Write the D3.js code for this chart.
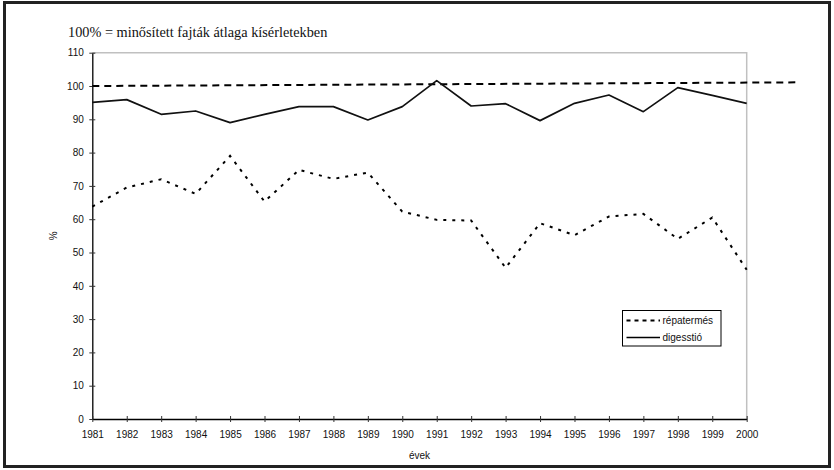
<!DOCTYPE html>
<html>
<head>
<meta charset="utf-8">
<script src="https://cdn.jsdelivr.net/npm/d3@7"></script>
<style>
  html, body { margin: 0; padding: 0; background: #fff; }
  svg { display: block; }
</style>
</head>
<body>
<svg id="chart" width="834" height="470"></svg>
<script>
// Years on the x axis
const years = [1981, 1982, 1983, 1984, 1985, 1986, 1987, 1988, 1989, 1990,
               1991, 1992, 1993, 1994, 1995, 1996, 1997, 1998, 1999, 2000];
// Relative yield (%), compared with the mean of registered varieties
const repatermes = [63.8, 69.5, 72.0, 67.6, 79.0, 65.3, 74.8, 72.1, 74.0, 62.3,
                    59.8, 59.6, 45.4, 58.8, 55.2, 60.8, 61.6, 54.1, 60.5, 44.8];
// Relative sugar content (digestion), %
const digesstio = [95.1, 95.9, 91.5, 92.5, 89.0, 91.5, 93.8, 93.8, 89.8, 93.8,
                   101.6, 94.0, 94.7, 89.6, 94.8, 97.3, 92.3, 99.5, 97.2, 94.8];
// 100% baseline (slightly rising as drawn)
const baseYears = [1981, 2001.45];
const baseValues = [100, 101.1];
// Axis ticks
const yTicks = [0, 10, 20, 30, 40, 50, 60, 70, 80, 90, 100, 110];
const seriesNames = ["répatermés", "digesstió"];
const titleText = "100% = minősített fajták átlaga kísérletekben";

const svg = d3.select("#chart");
const sans = "'Liberation Sans', Arial, sans-serif";
const serif = "'Liberation Serif', 'Times New Roman', serif";

const x = d3.scaleLinear().domain([1981, 2000]).range([92.3, 746.7]);
const y = d3.scaleLinear().domain([0, 110]).range([419, 52.7]);

// Outer frame
svg.append("rect")
  .attr("x", 4.5).attr("y", 2.5).attr("width", 825).attr("height", 464)
  .attr("fill", "none").attr("stroke", "#222").attr("stroke-width", 3);

// Title
svg.append("text")
  .attr("x", 68).attr("y", 37)
  .attr("font-family", serif).attr("font-size", 14.3)
  .attr("fill", "#111")
  .text(titleText);

// Plot area border (top and right, grey)
svg.append("path")
  .attr("d", `M${x(1981)},${y(110)}H${x(2000)}V${y(0)}`)
  .attr("fill", "none").attr("stroke", "#c0c0c0").attr("stroke-width", 1.5);

// Y axis
const yAxis = d3.axisLeft(y).tickValues(yTicks).tickSizeInner(3).tickSizeOuter(0).tickPadding(5);
const gy = svg.append("g").attr("transform", `translate(${x(1981)},0)`).call(yAxis);
gy.select(".domain").attr("stroke", "#000").attr("stroke-width", 1.3);
gy.selectAll(".tick line").attr("x2", 3).attr("x1", -3).attr("stroke", "#333");
gy.selectAll(".tick text").attr("font-family", sans).attr("font-size", 10).attr("fill", "#111").attr("x", -8.5);

// X axis
const xAxis = d3.axisBottom(x).tickValues(years).tickFormat(d3.format("d"))
  .tickSizeInner(3).tickSizeOuter(0).tickPadding(9);
const gx = svg.append("g").attr("transform", `translate(0,${y(0)})`).call(xAxis);
gx.select(".domain").attr("stroke", "#000").attr("stroke-width", 1.3);
gx.selectAll(".tick line").attr("y1", -3).attr("y2", 3).attr("stroke", "#333");
gx.selectAll(".tick text").attr("font-family", sans).attr("font-size", 10).attr("fill", "#111");

// Axis titles
svg.append("text")
  .attr("x", (x(1981) + x(2000)) / 2).attr("y", 459)
  .attr("text-anchor", "middle")
  .attr("font-family", sans).attr("font-size", 10).attr("fill", "#111")
  .text("évek");
svg.append("text")
  .attr("transform", `translate(57,${(y(0) + y(110)) / 2}) rotate(-90)`)
  .attr("text-anchor", "middle")
  .attr("font-family", sans).attr("font-size", 10).attr("fill", "#111")
  .text("%");

// 100% baseline
const baseLine = d3.line().x(d => x(d[0])).y(d => y(d[1]));
svg.append("path")
  .datum(baseYears.map((yr, i) => [yr, baseValues[i]]))
  .attr("d", baseLine)
  .attr("fill", "none").attr("stroke", "#000")
  .attr("stroke-width", 2).attr("stroke-dasharray", "7,5");

// Digestion series (solid)
const seriesLine = d3.line().x((d, i) => x(years[i])).y(d => y(d));
svg.append("path")
  .datum(digesstio)
  .attr("d", seriesLine)
  .attr("fill", "none").attr("stroke", "#111")
  .attr("stroke-width", 1.7).attr("stroke-linejoin", "round");

// Yield series (dashed)
svg.append("path")
  .datum(repatermes)
  .attr("d", seriesLine)
  .attr("fill", "none").attr("stroke", "#000")
  .attr("stroke-width", 2).attr("stroke-dasharray", "3,6");

// Legend
const lg = svg.append("g").attr("transform", "translate(622.5,310.5)");
lg.append("rect").attr("width", 98.5).attr("height", 35.5)
  .attr("fill", "#fff").attr("stroke", "#000").attr("stroke-width", 1);
const styles = [{ dash: "4,4", w: 2 }, { dash: null, w: 1.7 }];
seriesNames.forEach((name, i) => {
  const cy = 10 + i * 17;
  lg.append("line").attr("x1", 4).attr("x2", 37.5).attr("y1", cy).attr("y2", cy)
    .attr("stroke", "#000").attr("stroke-width", styles[i].w)
    .attr("stroke-dasharray", styles[i].dash);
  lg.append("text").attr("x", 40).attr("y", cy + 3.5)
    .attr("font-family", sans).attr("font-size", 10).attr("fill", "#111")
    .text(name);
});
</script>
</body>
</html>
